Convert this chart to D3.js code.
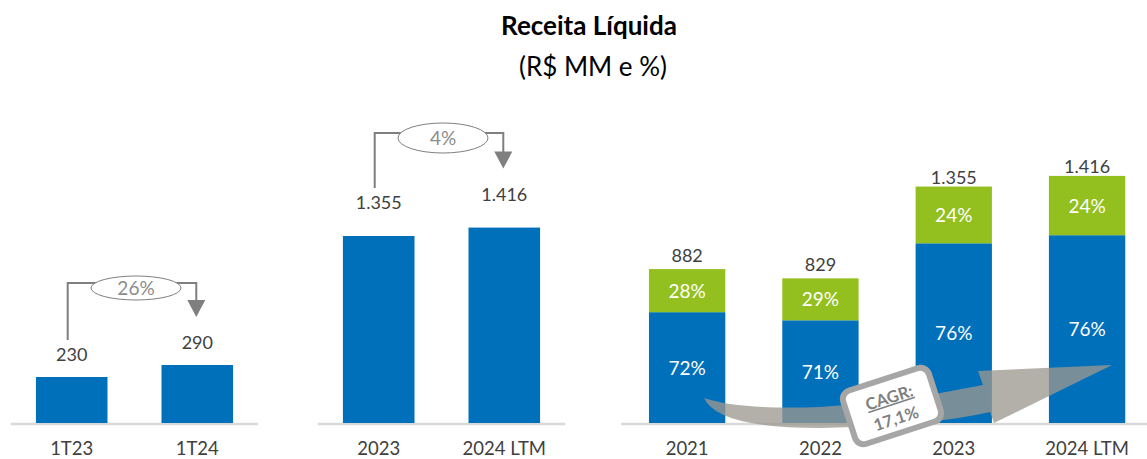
<!DOCTYPE html>
<html>
<head>
<meta charset="utf-8">
<script src="https://cdn.jsdelivr.net/npm/d3@7"></script>
<style>
  body { margin: 0; background: #fff; }
  text { font-family: Lato, "Open Sans", sans-serif; }
</style>
</head>
<body>
<div id="chart"></div>
<script>
// data
const quarterCats = ['1T23', '1T24'];
const quarterValues = [230, 290];
const quarterGrowth = '26%';

const annualCats = ['2023', '2024 LTM'];
const annualValues = [1355, 1416];
const annualGrowth = '4%';

const histCats = ['2021', '2022', '2023', '2024 LTM'];
const histTotals = [882, 829, 1355, 1416];
const histBlueShare = [72, 71, 76, 76];
const histGreenShare = [28, 29, 24, 24];
const cagrLabel = '17,1%';

const width = 1147, height = 459;
const baseY = 423;
const blue = '#0070BA', green = '#93C01F', textGray = '#404040', lineGray = '#7f7f7f';

const ptBR = d3.formatLocale({decimal: ',', thousands: '.', grouping: [3], currency: ['R$', '']});
const fmt = ptBR.format(',d');

const svg = d3.select('#chart').append('svg')
  .attr('width', width)
  .attr('height', height);

// title
svg.append('text')
  .attr('x', 589).attr('y', 35)
  .attr('text-anchor', 'middle')
  .attr('font-size', 26).attr('font-weight', 'bold')
  .attr('fill', '#000')
  .text('Receita Líquida');
svg.append('text')
  .attr('x', 593).attr('y', 76)
  .attr('text-anchor', 'middle')
  .attr('font-size', 26)
  .attr('fill', '#000')
  .text('(R$ MM e %)');

// simple bar panel with growth arrow on top
function simplePanel(cats, values, growth, xRange, yTop, labelGap, arrowTop, ellipseRy) {
  const x = d3.scaleBand().domain(cats).range(xRange).paddingInner(0.43).paddingOuter(0.2);
  const y = d3.scaleLinear().domain([0, 1000]).range([baseY, yTop]);
  const g = svg.append('g');

  g.append('line')
    .attr('x1', xRange[0]).attr('x2', xRange[1])
    .attr('y1', baseY + 1).attr('y2', baseY + 1)
    .attr('stroke', '#d9d9d9').attr('stroke-width', 2.5);

  g.selectAll('rect.bar')
    .data(values)
    .join('rect')
    .attr('class', 'bar')
    .attr('x', (d, i) => x(cats[i]))
    .attr('y', d => y(d))
    .attr('width', x.bandwidth())
    .attr('height', d => baseY - y(d))
    .attr('fill', blue);

  g.selectAll('text.val')
    .data(values)
    .join('text')
    .attr('class', 'val')
    .attr('x', (d, i) => x(cats[i]) + x.bandwidth() / 2)
    .attr('y', d => y(d) - labelGap)
    .attr('text-anchor', 'middle')
    .attr('font-size', 18)
    .attr('fill', textGray)
    .text(d => fmt(d));

  g.selectAll('text.cat')
    .data(cats)
    .join('text')
    .attr('class', 'cat')
    .attr('x', d => x(d) + x.bandwidth() / 2)
    .attr('y', 455)
    .attr('text-anchor', 'middle')
    .attr('font-size', 18.5)
    .attr('fill', textGray)
    .text(d => d);

  // growth connector
  const lx = x(cats[0]) + x.bandwidth() / 2 - 4;
  const rx = x(cats[1]) + x.bandwidth() / 2 - 1;
  const leftBottom = y(values[0]) - labelGap - 21;
  const rightBottom = y(values[1]) - labelGap - 32;
  const cx = (lx + rx) / 2 + 4;
  const cy = arrowTop + 5;

  g.append('path')
    .attr('d', `M${lx},${leftBottom}V${arrowTop}H${rx}V${rightBottom - 16}`)
    .attr('fill', 'none')
    .attr('stroke', lineGray)
    .attr('stroke-width', 2);
  g.append('path')
    .attr('d', `M${rx - 9},${rightBottom - 17}L${rx + 9},${rightBottom - 17}L${rx},${rightBottom}Z`)
    .attr('fill', lineGray);
  g.append('ellipse')
    .attr('cx', cx).attr('cy', cy)
    .attr('rx', 45).attr('ry', ellipseRy)
    .attr('fill', '#fff')
    .attr('stroke', lineGray).attr('stroke-width', 1);
  g.append('text')
    .attr('x', cx).attr('y', cy + 6.5)
    .attr('text-anchor', 'middle')
    .attr('font-size', 19)
    .attr('fill', '#8c8c8c')
    .text(growth);
}

simplePanel(quarterCats, quarterValues, quarterGrowth, [10.8, 258.2], 223, 16, 283, 12);
simplePanel(annualCats, annualValues, annualGrowth, [317.8, 565.2], 285, 27, 133, 15);

// stacked panel
const x3 = d3.scaleBand().domain(histCats).range([622.3, 1151.9]).paddingInner(0.4275).paddingOuter(0.2);
const y3 = d3.scaleLinear().domain([0, 1000]).range([baseY, 248.5]);
const g3 = svg.append('g');

g3.append('line')
  .attr('x1', 621).attr('x2', width)
  .attr('y1', baseY + 1).attr('y2', baseY + 1)
  .attr('stroke', '#d9d9d9').attr('stroke-width', 2.5);

const stackRows = histCats.map((c, i) => ({
  cat: c,
  total: histTotals[i],
  blue: histBlueShare[i],
  green: histGreenShare[i],
  blueVal: histTotals[i] * histBlueShare[i] / 100
}));

g3.selectAll('rect.blue')
  .data(stackRows)
  .join('rect')
  .attr('class', 'blue')
  .attr('x', d => x3(d.cat))
  .attr('y', d => y3(d.blueVal))
  .attr('width', x3.bandwidth())
  .attr('height', d => baseY - y3(d.blueVal))
  .attr('fill', blue);

g3.selectAll('rect.green')
  .data(stackRows)
  .join('rect')
  .attr('class', 'green')
  .attr('x', d => x3(d.cat))
  .attr('y', d => y3(d.total))
  .attr('width', x3.bandwidth())
  .attr('height', d => y3(d.blueVal) - y3(d.total))
  .attr('fill', green);

g3.selectAll('text.pb')
  .data(stackRows)
  .join('text')
  .attr('class', 'pb')
  .attr('x', d => x3(d.cat) + x3.bandwidth() / 2)
  .attr('y', d => (baseY + y3(d.blueVal)) / 2 + 7)
  .attr('text-anchor', 'middle')
  .attr('font-size', 19)
  .attr('fill', '#fff')
  .text(d => d.blue + '%');

g3.selectAll('text.pg')
  .data(stackRows)
  .join('text')
  .attr('class', 'pg')
  .attr('x', d => x3(d.cat) + x3.bandwidth() / 2)
  .attr('y', d => (y3(d.blueVal) + y3(d.total)) / 2 + 7)
  .attr('text-anchor', 'middle')
  .attr('font-size', 19)
  .attr('fill', '#fff')
  .text(d => d.green + '%');

g3.selectAll('text.tot')
  .data(stackRows)
  .join('text')
  .attr('class', 'tot')
  .attr('x', d => x3(d.cat) + x3.bandwidth() / 2)
  .attr('y', d => y3(d.total) - (d.total > 1000 ? 3 : 7))
  .attr('text-anchor', 'middle')
  .attr('font-size', 18)
  .attr('fill', textGray)
  .text(d => fmt(d.total));

g3.selectAll('text.cat')
  .data(histCats)
  .join('text')
  .attr('class', 'cat')
  .attr('x', d => x3(d) + x3.bandwidth() / 2)
  .attr('y', 455)
  .attr('text-anchor', 'middle')
  .attr('font-size', 18.5)
  .attr('fill', textGray)
  .text(d => d);

// CAGR curved arrow
const c0 = x3(histCats[0]) + x3.bandwidth() / 2;
const c3 = x3(histCats[3]) + x3.bandwidth() / 2;
const arrowPath = d3.path();
arrowPath.moveTo(c0 + 17, 398);
arrowPath.quadraticCurveTo(c0 + 30, 428, 820, 428);
arrowPath.quadraticCurveTo(930, 426, 990, 412);
arrowPath.lineTo(994, 423);
arrowPath.lineTo(c3 + 25, 365);
arrowPath.lineTo(978, 371);
arrowPath.lineTo(983, 385);
arrowPath.quadraticCurveTo(900, 402, 820, 407);
arrowPath.quadraticCurveTo(740, 410, c0 + 17, 398);
arrowPath.closePath();
g3.append('path')
  .attr('d', arrowPath.toString())
  .attr('fill', 'rgb(156,152,145)')
  .attr('fill-opacity', 0.77);

const badge = g3.append('g').attr('transform', 'translate(892,406) rotate(-18)');
badge.append('rect')
  .attr('x', -45).attr('y', -28)
  .attr('width', 90).attr('height', 56)
  .attr('rx', 9)
  .attr('fill', '#fff')
  .attr('stroke', '#a6a6a6')
  .attr('stroke-width', 6);
badge.append('text')
  .attr('x', 0).attr('y', -3)
  .attr('text-anchor', 'middle')
  .attr('font-size', 16.5).attr('font-weight', 'bold')
  .attr('fill', '#7f7f7f')
  .attr('text-decoration', 'underline')
  .text('CAGR:');
badge.append('text')
  .attr('x', 0).attr('y', 19)
  .attr('text-anchor', 'middle')
  .attr('font-size', 16.5).attr('font-weight', 'bold')
  .attr('fill', '#7f7f7f')
  .text(cagrLabel);
</script>
</body>
</html>
